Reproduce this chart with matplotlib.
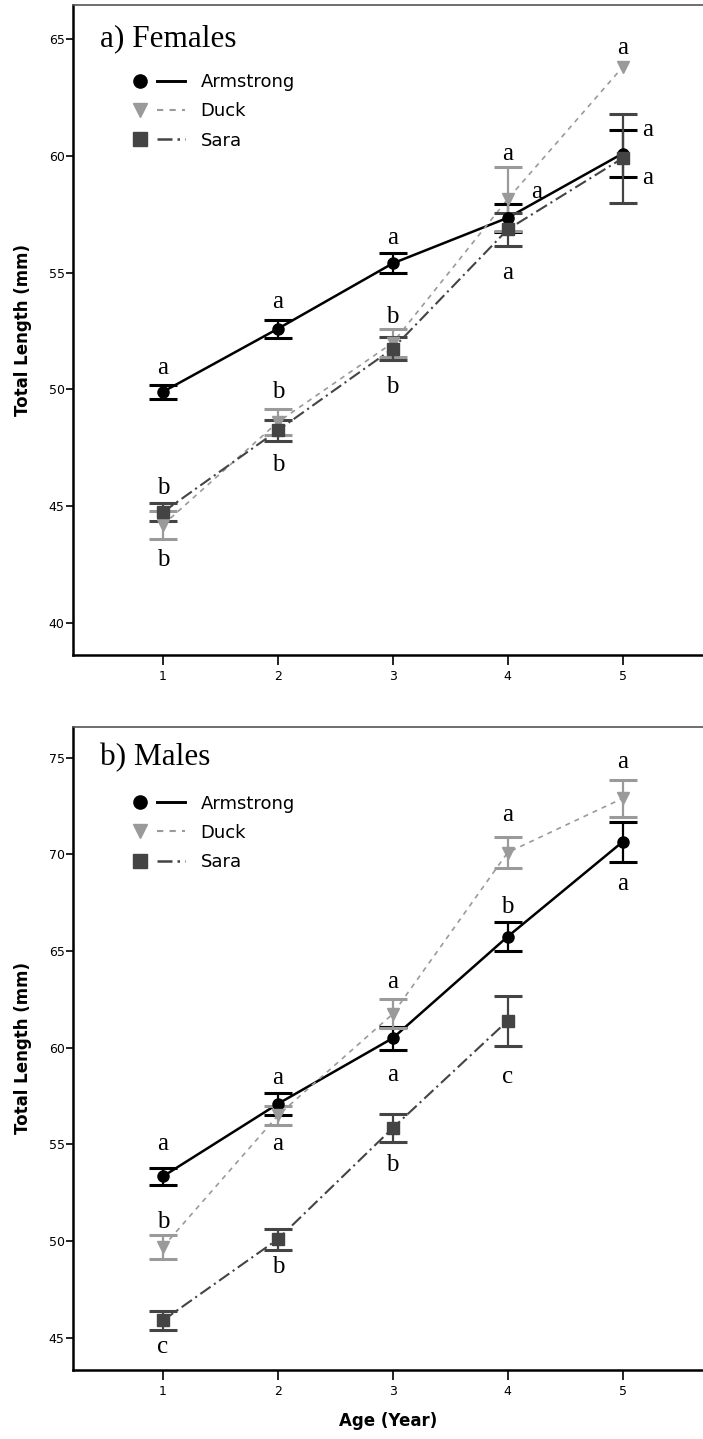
import matplotlib.pyplot as plt
from matplotlib.legend_handler import HandlerTuple
from matplotlib.lines import Line2D

ages = [1, 2, 3, 4, 5]

# a) Females  (Duck at age 5 has no error bar -> 0)
f_arm = [49.9, 52.6, 55.4, 57.35, 60.1]
f_arm_err = [0.3, 0.38, 0.43, 0.6, 1.0]
f_duck = [44.2, 48.6, 52.0, 58.15, 63.8]
f_duck_err = [0.6, 0.55, 0.6, 1.37, 0.0]
f_sara = [44.75, 48.25, 51.75, 56.85, 59.9]
f_sara_err = [0.4, 0.45, 0.5, 0.7, 1.9]
f_letters = ['a', 'b', 'b', 'a', 'b', 'b', 'a', 'b', 'b', 'a', 'a', 'a', 'a', 'a', 'a']
f_letter_x = [1, 1, 1, 2, 2, 2, 3, 3, 3, 4, 4.25, 4, 5, 5.22, 5.22]
f_letter_y = [50.9, 45.8, 42.7, 53.75, 49.9, 46.75, 56.5, 53.1, 50.1, 60.1, 58.45, 55.0, 64.6, 61.1, 59.05]

# b) Males  (no Sara fish at age 5)
m_arm = [53.35, 57.1, 60.5, 65.75, 70.65]
m_arm_err = [0.45, 0.55, 0.6, 0.75, 1.03]
m_duck = [49.7, 56.5, 61.75, 70.1, 72.9]
m_duck_err = [0.6, 0.5, 0.75, 0.78, 0.95]
m_sara = [45.9, 50.1, 55.85, 61.4]
m_sara_err = [0.5, 0.55, 0.72, 1.3]
m_letters = ['a', 'b', 'c', 'a', 'a', 'b', 'a', 'a', 'b', 'a', 'b', 'c', 'a', 'a']
m_letter_x = [1, 1, 1, 2, 2, 2, 3, 3, 3, 4, 4, 4, 5, 5]
m_letter_y = [55.0, 51.0, 44.5, 58.45, 55.0, 48.65, 63.4, 58.6, 53.95, 72.05, 67.3, 58.5, 74.8, 68.45]

sites = ['Armstrong', 'Duck', 'Sara']
colors = ['black', '#9a9a9a', '#444444']
markers = ['o', 'v', 's']
lstyles = ['-', (0, (3, 3)), (0, (6, 2, 1, 2))]
lwidths = [1.8, 1.2, 1.5]

fig = plt.figure(figsize=(7.03, 14.39), dpi=100)
ax1 = fig.add_axes([0.1038, 0.5448, 0.8962, 0.4517])
ax2 = fig.add_axes([0.1038, 0.0480, 0.8962, 0.4469])


def draw_panel(ax, series, letters, lx, ly, title, title_y, ylim, yticks):
    handles = []
    for i, (vals, errs) in enumerate(series):
        xs = ages[:len(vals)]
        ax.plot(xs, vals, color=colors[i], linestyle=lstyles[i], lw=lwidths[i], zorder=2)
        ax.plot(xs, vals, markers[i], color=colors[i], ms=8, zorder=4)
        # only points with a spread get an error bar
        ex = [x for x, e in zip(xs, errs) if e > 0]
        ev = [v for v, e in zip(vals, errs) if e > 0]
        ee = [e for e in errs if e > 0]
        ax.errorbar(ex, ev, yerr=ee, fmt='none', ecolor=colors[i], elinewidth=1.6,
                    capsize=10, capthick=2.2, zorder=3)
        mk = Line2D([], [], marker=markers[i], color=colors[i], ms=9.5, linestyle='none')
        ln = Line2D([], [], color=colors[i], linestyle=lstyles[i], lw=lwidths[i] + 0.3)
        handles.append((mk, ln))
    for t, x, y in zip(letters, lx, ly):
        ax.text(x, y, t, ha='center', va='center', fontsize=18, family='Liberation Serif')
    ax.text(0.45, title_y, title, ha='left', va='center', fontsize=22.5, family='Liberation Serif')
    ax.legend(handles, sites, handler_map={tuple: HandlerTuple(ndivide=None, pad=0.2)},
              loc='upper left', bbox_to_anchor=(0.058, 0.92), frameon=False,
              handlelength=3.3, handletextpad=0.85, labelspacing=0.62, fontsize=13)
    ax.set_xlim(0.217, 5.70)
    ax.set_ylim(*ylim)
    ax.set_xticks(ages)
    ax.set_yticks(yticks)
    ax.spines['right'].set_visible(False)
    for s in ['left', 'bottom']:
        ax.spines[s].set_linewidth(1.8)
    ax.spines['top'].set_linewidth(1.2)
    ax.spines['top'].set_color('#555555')
    ax.tick_params(axis='y', direction='out', length=5, width=1.2, labelsize=9, pad=1)
    ax.tick_params(axis='x', direction='out', length=7, width=1.2, labelsize=9, pad=4)
    ax.set_ylabel('Total Length (mm)', fontsize=12, fontweight='bold', labelpad=12)


draw_panel(ax1, [(f_arm, f_arm_err), (f_duck, f_duck_err), (f_sara, f_sara_err)],
           f_letters, f_letter_x, f_letter_y, 'a) Females', 65.0,
           (38.63, 66.46), [40, 45, 50, 55, 60, 65])
draw_panel(ax2, [(m_arm, m_arm_err), (m_duck, m_duck_err), (m_sara, m_sara_err)],
           m_letters, m_letter_x, m_letter_y, 'b) Males', 75.0,
           (43.34, 76.6), [45, 50, 55, 60, 65, 70, 75])
ax2.set_xlabel('Age (Year)', fontsize=12, fontweight='bold', labelpad=10)

fig.savefig('out.png', dpi=100)
